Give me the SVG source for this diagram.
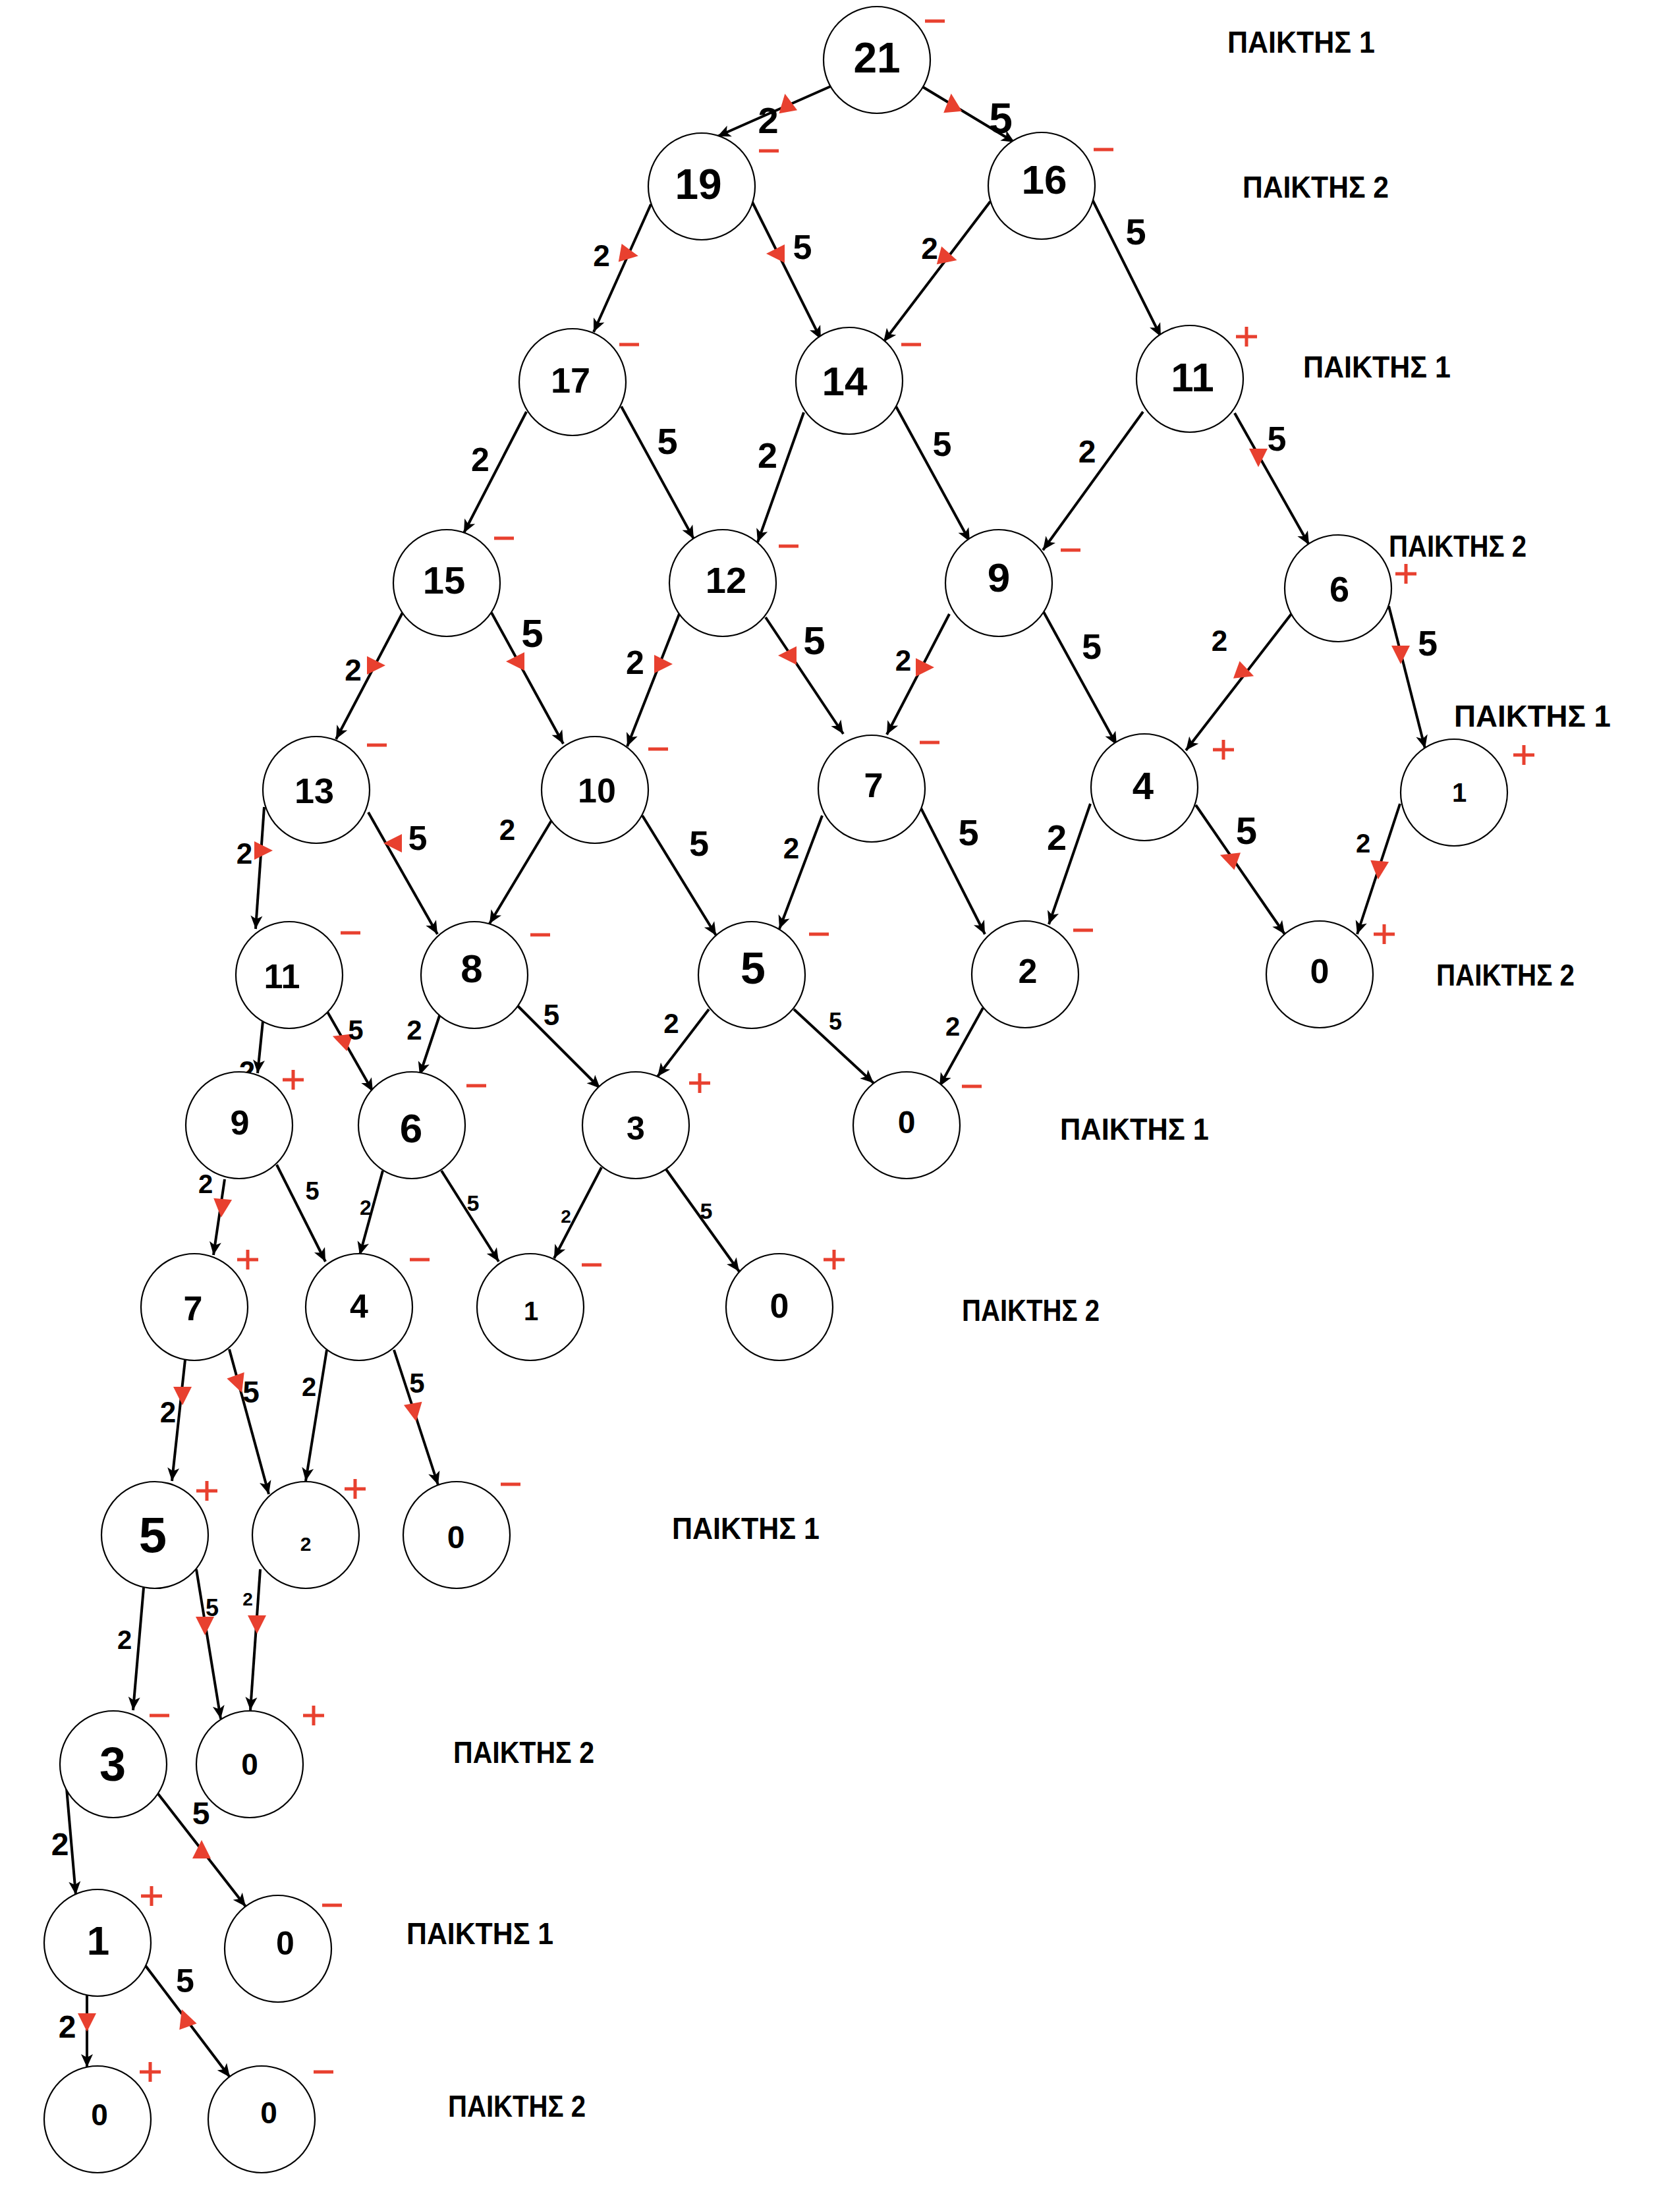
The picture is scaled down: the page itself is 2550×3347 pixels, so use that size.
<svg xmlns="http://www.w3.org/2000/svg" xmlns:xlink="http://www.w3.org/1999/xlink" width="2550" height="3347" viewBox="0 0 2550 3347">
<style>
.bg{fill:#fff}
.n{fill:#fff;stroke:#000;stroke-width:2.2}
.t{font-family:"Liberation Sans",Arial,sans-serif;font-weight:700;fill:#000;text-anchor:middle;dominant-baseline:central}
.e{stroke:#000;stroke-width:4;fill:none;marker-end:url(#ah)}
.el{font-family:"Liberation Sans",Arial,sans-serif;font-weight:700;fill:#000;text-anchor:middle;dominant-baseline:central}
.s{stroke:#e8402f;stroke-width:5;fill:none;stroke-linecap:butt}
.p{font-family:"Liberation Sans",Arial,sans-serif;font-weight:700;font-size:46px;fill:#000;dominant-baseline:central}
</style>
<defs>
<marker id="ah" viewBox="-22 -11 24 22" refX="0" refY="0" markerWidth="24" markerHeight="22" markerUnits="userSpaceOnUse" orient="auto"><path d="M0,0 L-20,-9 L-15,0 L-20,9 Z" fill="#000"/></marker>
<path id="rt" d="M-13,-14 L15,0 L-13,14 Z" fill="#e8402f"/>
<path id="mn" class="s" d="M-15,0 H15"/>
<path id="pl" class="s" d="M-16,0 H16 M0,-15 V15"/>
</defs>
<rect class="bg" x="0" y="0" width="2550" height="3347"/>

<g id="connectors">
<line class="e" x1="1261" y1="131" x2="1089" y2="207"/>
<line class="e" x1="1399" y1="131" x2="1540" y2="216"/>
<line class="e" x1="988" y1="310" x2="901" y2="504"/>
<line class="e" x1="1141" y1="305" x2="1246" y2="515"/>
<line class="e" x1="1503" y1="306" x2="1341" y2="519"/>
<line class="e" x1="1658" y1="303" x2="1762" y2="511"/>
<line class="e" x1="799" y1="625" x2="704" y2="809"/>
<line class="e" x1="943" y1="617" x2="1053" y2="818"/>
<line class="e" x1="1220" y1="626" x2="1150" y2="823"/>
<line class="e" x1="1360" y1="617" x2="1472" y2="822"/>
<line class="e" x1="1735" y1="625" x2="1583" y2="835"/>
<line class="e" x1="1874" y1="627" x2="1987" y2="827"/>
<line class="e" x1="611" y1="930" x2="510" y2="1122"/>
<line class="e" x1="746" y1="930" x2="855" y2="1129"/>
<line class="e" x1="1031" y1="932" x2="952" y2="1133"/>
<line class="e" x1="1162" y1="937" x2="1280" y2="1114"/>
<line class="e" x1="1441" y1="932" x2="1346" y2="1115"/>
<line class="e" x1="1583" y1="927" x2="1695" y2="1131"/>
<line class="e" x1="1960" y1="932" x2="1800" y2="1139"/>
<line class="e" x1="2108" y1="920" x2="2163" y2="1136"/>
<line class="e" x1="401" y1="1225" x2="388" y2="1410"/>
<line class="e" x1="559" y1="1233" x2="664" y2="1418"/>
<line class="e" x1="838" y1="1244" x2="743" y2="1402"/>
<line class="e" x1="975" y1="1238" x2="1087" y2="1420"/>
<line class="e" x1="1248" y1="1238" x2="1183" y2="1410"/>
<line class="e" x1="1398" y1="1227" x2="1495" y2="1418"/>
<line class="e" x1="1655" y1="1220" x2="1592" y2="1403"/>
<line class="e" x1="1815" y1="1222" x2="1950" y2="1418"/>
<line class="e" x1="2125" y1="1220" x2="2060" y2="1418"/>
<line class="e" x1="399" y1="1550" x2="391" y2="1629"/>
<line class="e" x1="497" y1="1536" x2="566" y2="1657"/>
<line class="e" x1="668" y1="1539" x2="637" y2="1632"/>
<line class="e" x1="786" y1="1527" x2="911" y2="1652"/>
<line class="e" x1="1076" y1="1532" x2="998" y2="1634"/>
<line class="e" x1="1205" y1="1532" x2="1326" y2="1644"/>
<line class="e" x1="1492" y1="1530" x2="1426" y2="1649"/>
<line class="e" x1="341" y1="1790" x2="324" y2="1905"/>
<line class="e" x1="420" y1="1768" x2="494" y2="1915"/>
<line class="e" x1="581" y1="1777" x2="546" y2="1905"/>
<line class="e" x1="670" y1="1777" x2="757" y2="1915"/>
<line class="e" x1="913" y1="1772" x2="841" y2="1910"/>
<line class="e" x1="1011" y1="1775" x2="1122" y2="1930"/>
<line class="e" x1="281" y1="2064" x2="261" y2="2248"/>
<line class="e" x1="348" y1="2048" x2="408" y2="2268"/>
<line class="e" x1="496" y1="2049" x2="464" y2="2248"/>
<line class="e" x1="598" y1="2049" x2="665" y2="2254"/>
<line class="e" x1="218" y1="2410" x2="202" y2="2596"/>
<line class="e" x1="298" y1="2382" x2="335" y2="2609"/>
<line class="e" x1="395" y1="2382" x2="380" y2="2596"/>
<line class="e" x1="101" y1="2714" x2="115" y2="2876"/>
<line class="e" x1="240" y1="2723" x2="373" y2="2894"/>
<line class="e" x1="132" y1="3029" x2="132" y2="3138"/>
<line class="e" x1="221" y1="2984" x2="349" y2="3153"/>

<g id="red-markers">
<use href="#rt" transform="translate(1194,157) rotate(-100)"/>
<use href="#rt" transform="translate(1445,157) rotate(-95)"/>
<use href="#rt" transform="translate(954,386) rotate(10)"/>
<use href="#rt" transform="translate(1178,385) rotate(180)"/>
<use href="#rt" transform="translate(1438,391) rotate(15)"/>
<use href="#rt" transform="translate(1910,694) rotate(90)"/>
<use href="#rt" transform="translate(570,1010) rotate(0)"/>
<use href="#rt" transform="translate(783,1004) rotate(180)"/>
<use href="#rt" transform="translate(1006,1008) rotate(0)"/>
<use href="#rt" transform="translate(1196,995) rotate(180)"/>
<use href="#rt" transform="translate(1403,1013) rotate(0)"/>
<use href="#rt" transform="translate(1889,1021) rotate(20)"/>
<use href="#rt" transform="translate(2126,993) rotate(90)"/>
<use href="#rt" transform="translate(1866,1303) rotate(200)"/>
<use href="#rt" transform="translate(2093,1320) rotate(95)"/>
<use href="#rt" transform="translate(399,1291) rotate(0)"/>
<use href="#rt" transform="translate(597,1280) rotate(180)"/>
<use href="#rt" transform="translate(519,1578) rotate(200)"/>
<use href="#rt" transform="translate(337,1833) rotate(95)"/>
<use href="#rt" transform="translate(277,2118) rotate(90)"/>
<use href="#rt" transform="translate(362,2100) rotate(70)"/>
<use href="#rt" transform="translate(629,2143) rotate(80)"/>
<use href="#rt" transform="translate(311,2467) rotate(90)"/>
<use href="#rt" transform="translate(390,2465) rotate(90)"/>
<use href="#rt" transform="translate(306,2808) rotate(-90)"/>
<use href="#rt" transform="translate(132,3069) rotate(90)"/>
<use href="#rt" transform="translate(281,3064) rotate(-110)"/>
</g>

<g id="edge-labels">
<text class="el" x="1166" y="182" font-size="56">2</text>
<text class="el" x="1519" y="180" font-size="64">5</text>
<text class="el" x="913" y="388" font-size="46">2</text>
<text class="el" x="1218" y="375" font-size="52">5</text>
<text class="el" x="1411" y="377" font-size="46">2</text>
<text class="el" x="1724" y="351" font-size="56">5</text>
<text class="el" x="729" y="698" font-size="50">2</text>
<text class="el" x="1013" y="669" font-size="56">5</text>
<text class="el" x="1165" y="691" font-size="54">2</text>
<text class="el" x="1430" y="674" font-size="52">5</text>
<text class="el" x="1650" y="685" font-size="48">2</text>
<text class="el" x="1938" y="666" font-size="52">5</text>
<text class="el" x="536" y="1017" font-size="46">2</text>
<text class="el" x="808" y="961" font-size="60">5</text>
<text class="el" x="964" y="1006" font-size="50">2</text>
<text class="el" x="1236" y="972" font-size="60">5</text>
<text class="el" x="1371" y="1002" font-size="44">2</text>
<text class="el" x="1657" y="981" font-size="54">5</text>
<text class="el" x="1851" y="972" font-size="44">2</text>
<text class="el" x="2167" y="976" font-size="54">5</text>
<text class="el" x="371" y="1295" font-size="44">2</text>
<text class="el" x="634" y="1272" font-size="52">5</text>
<text class="el" x="770" y="1259" font-size="44">2</text>
<text class="el" x="1061" y="1280" font-size="54">5</text>
<text class="el" x="1201" y="1287" font-size="44">2</text>
<text class="el" x="1470" y="1263" font-size="56">5</text>
<text class="el" x="1604" y="1271" font-size="54">2</text>
<text class="el" x="1892" y="1260" font-size="58">5</text>
<text class="el" x="2069" y="1280" font-size="40">2</text>
<text class="el" x="375" y="1626" font-size="44">2</text>
<text class="el" x="540" y="1563" font-size="42">5</text>
<text class="el" x="629" y="1563" font-size="42">2</text>
<text class="el" x="837" y="1540" font-size="44">5</text>
<text class="el" x="1019" y="1553" font-size="42">2</text>
<text class="el" x="1268" y="1550" font-size="36">5</text>
<text class="el" x="1446" y="1558" font-size="40">2</text>
<text class="el" x="312" y="1797" font-size="40">2</text>
<text class="el" x="474" y="1808" font-size="38">5</text>
<text class="el" x="555" y="1833" font-size="32">2</text>
<text class="el" x="718" y="1826" font-size="34">5</text>
<text class="el" x="859" y="1846" font-size="28">2</text>
<text class="el" x="1072" y="1838" font-size="34">5</text>
<text class="el" x="255" y="2143" font-size="44">2</text>
<text class="el" x="381" y="2113" font-size="46">5</text>
<text class="el" x="469" y="2105" font-size="40">2</text>
<text class="el" x="633" y="2099" font-size="42">5</text>
<text class="el" x="189" y="2489" font-size="40">2</text>
<text class="el" x="322" y="2440" font-size="36">5</text>
<text class="el" x="376" y="2427" font-size="28">2</text>
<text class="el" x="91" y="2799" font-size="48">2</text>
<text class="el" x="305" y="2752" font-size="48">5</text>
<text class="el" x="102" y="3076" font-size="48">2</text>
<text class="el" x="281" y="3007" font-size="50">5</text>
</g>
</g>

<g id="node-21"><circle class="n" cx="1331" cy="91" r="81"/><text class="t" x="1331" y="88" font-size="64">21</text><use href="#mn" x="1419" y="32"/></g>
<g id="node-19"><circle class="n" cx="1065" cy="283" r="81"/><text class="t" x="1060" y="280" font-size="64">19</text><use href="#mn" x="1167" y="229"/></g>
<g id="node-16"><circle class="n" cx="1581" cy="282" r="81"/><text class="t" x="1585" y="272" font-size="62">16</text><use href="#mn" x="1675" y="227"/></g>
<g id="node-17"><circle class="n" cx="869" cy="580" r="81"/><text class="t" x="866" y="577" font-size="54">17</text><use href="#mn" x="955" y="523"/></g>
<g id="node-14"><circle class="n" cx="1289" cy="578" r="81"/><text class="t" x="1282" y="578" font-size="62">14</text><use href="#mn" x="1383" y="523"/></g>
<g id="node-11-a"><circle class="n" cx="1806" cy="575" r="81"/><text class="t" x="1810" y="572" font-size="62">11</text><use href="#pl" x="1892" y="511"/></g>
<g id="node-15"><circle class="n" cx="678" cy="885" r="81"/><text class="t" x="674" y="880" font-size="58">15</text><use href="#mn" x="765" y="817"/></g>
<g id="node-12"><circle class="n" cx="1097" cy="885" r="81"/><text class="t" x="1102" y="880" font-size="56">12</text><use href="#mn" x="1197" y="829"/></g>
<g id="node-9-a"><circle class="n" cx="1516" cy="885" r="81"/><text class="t" x="1516" y="876" font-size="62">9</text><use href="#mn" x="1625" y="835"/></g>
<g id="node-6-a"><circle class="n" cx="2031" cy="893" r="81"/><text class="t" x="2033" y="894" font-size="54">6</text><use href="#pl" x="2134" y="871"/></g>
<g id="node-13"><circle class="n" cx="480" cy="1199" r="81"/><text class="t" x="477" y="1200" font-size="54">13</text><use href="#mn" x="572" y="1131"/></g>
<g id="node-10"><circle class="n" cx="903" cy="1199" r="81"/><text class="t" x="906" y="1200" font-size="52">10</text><use href="#mn" x="999" y="1137"/></g>
<g id="node-7-a"><circle class="n" cx="1323" cy="1197" r="81"/><text class="t" x="1326" y="1192" font-size="52">7</text><use href="#mn" x="1411" y="1127"/></g>
<g id="node-4-a"><circle class="n" cx="1737" cy="1195" r="81"/><text class="t" x="1735" y="1192" font-size="58">4</text><use href="#pl" x="1857" y="1138"/></g>
<g id="node-1-a"><circle class="n" cx="2207" cy="1203" r="81"/><text class="t" x="2215" y="1203" font-size="40">1</text><use href="#pl" x="2313" y="1146"/></g>
<g id="node-11-b"><circle class="n" cx="439" cy="1480" r="81"/><text class="t" x="428" y="1482" font-size="52">11</text><use href="#mn" x="532" y="1416"/></g>
<g id="node-8"><circle class="n" cx="720" cy="1480" r="81"/><text class="t" x="716" y="1470" font-size="60">8</text><use href="#mn" x="820" y="1419"/></g>
<g id="node-5-a"><circle class="n" cx="1141" cy="1480" r="81"/><text class="t" x="1143" y="1469" font-size="68">5</text><use href="#mn" x="1243" y="1418"/></g>
<g id="node-2-a"><circle class="n" cx="1556" cy="1479" r="81"/><text class="t" x="1560" y="1474" font-size="52">2</text><use href="#mn" x="1644" y="1412"/></g>
<g id="node-0-a"><circle class="n" cx="2003" cy="1479" r="81"/><text class="t" x="2003" y="1474" font-size="52">0</text><use href="#pl" x="2101" y="1418"/></g>
<g id="node-9-b"><circle class="n" cx="363" cy="1708" r="81"/><text class="t" x="364" y="1704" font-size="52">9</text><use href="#pl" x="445" y="1639"/></g>
<g id="node-6-b"><circle class="n" cx="625" cy="1708" r="81"/><text class="t" x="624" y="1712" font-size="62">6</text><use href="#mn" x="723" y="1648"/></g>
<g id="node-3-a"><circle class="n" cx="965" cy="1708" r="81"/><text class="t" x="965" y="1713" font-size="50">3</text><use href="#pl" x="1062" y="1644"/></g>
<g id="node-0-b"><circle class="n" cx="1376" cy="1708" r="81"/><text class="t" x="1376" y="1703" font-size="48">0</text><use href="#mn" x="1475" y="1649"/></g>
<g id="node-7-b"><circle class="n" cx="295" cy="1984" r="81"/><text class="t" x="293" y="1986" font-size="52">7</text><use href="#pl" x="376" y="1912"/></g>
<g id="node-4-b"><circle class="n" cx="545" cy="1984" r="81"/><text class="t" x="545" y="1983" font-size="50">4</text><use href="#mn" x="637" y="1912"/></g>
<g id="node-1-b"><circle class="n" cx="805" cy="1984" r="81"/><text class="t" x="806" y="1990" font-size="40">1</text><use href="#mn" x="898" y="1920"/></g>
<g id="node-0-c"><circle class="n" cx="1183" cy="1984" r="81"/><text class="t" x="1183" y="1982" font-size="52">0</text><use href="#pl" x="1266" y="1912"/></g>
<g id="node-5-b"><circle class="n" cx="235" cy="2330" r="81"/><text class="t" x="232" y="2329" font-size="76">5</text><use href="#pl" x="314" y="2263"/></g>
<g id="node-2-b"><circle class="n" cx="464" cy="2330" r="81"/><text class="t" x="464" y="2343" font-size="30">2</text><use href="#pl" x="539" y="2260"/></g>
<g id="node-0-d"><circle class="n" cx="693" cy="2330" r="81"/><text class="t" x="692" y="2333" font-size="48">0</text><use href="#mn" x="775" y="2253"/></g>
<g id="node-3-b"><circle class="n" cx="172" cy="2678" r="81"/><text class="t" x="171" y="2678" font-size="72">3</text><use href="#mn" x="242" y="2604"/></g>
<g id="node-0-e"><circle class="n" cx="379" cy="2678" r="81"/><text class="t" x="379" y="2678" font-size="46">0</text><use href="#pl" x="476" y="2604"/></g>
<g id="node-1-c"><circle class="n" cx="148" cy="2949" r="81"/><text class="t" x="149" y="2945" font-size="62">1</text><use href="#pl" x="230" y="2878"/></g>
<g id="node-0-f"><circle class="n" cx="422" cy="2958" r="81"/><text class="t" x="433" y="2950" font-size="50">0</text><use href="#mn" x="504" y="2892"/></g>
<g id="node-0-g"><circle class="n" cx="148" cy="3217" r="81"/><text class="t" x="151" y="3210" font-size="46">0</text><use href="#pl" x="228" y="3145"/></g>
<g id="node-0-h"><circle class="n" cx="397" cy="3217" r="81"/><text class="t" x="408" y="3207" font-size="46">0</text><use href="#mn" x="491" y="3145"/></g>

<g id="player-labels">
<text class="p" x="1863" y="64" textLength="224" lengthAdjust="spacingAndGlyphs">ΠΑΙΚΤΗΣ 1</text>
<text class="p" x="1886" y="284" textLength="222" lengthAdjust="spacingAndGlyphs">ΠΑΙΚΤΗΣ 2</text>
<text class="p" x="1978" y="557" textLength="224" lengthAdjust="spacingAndGlyphs">ΠΑΙΚΤΗΣ 1</text>
<text class="p" x="2108" y="829" textLength="209" lengthAdjust="spacingAndGlyphs">ΠΑΙΚΤΗΣ 2</text>
<text class="p" x="2207" y="1087" textLength="238" lengthAdjust="spacingAndGlyphs">ΠΑΙΚΤΗΣ 1</text>
<text class="p" x="2180" y="1480" textLength="210" lengthAdjust="spacingAndGlyphs">ΠΑΙΚΤΗΣ 2</text>
<text class="p" x="1609" y="1714" textLength="226" lengthAdjust="spacingAndGlyphs">ΠΑΙΚΤΗΣ 1</text>
<text class="p" x="1460" y="1989" textLength="209" lengthAdjust="spacingAndGlyphs">ΠΑΙΚΤΗΣ 2</text>
<text class="p" x="1020" y="2320" textLength="224" lengthAdjust="spacingAndGlyphs">ΠΑΙΚΤΗΣ 1</text>
<text class="p" x="688" y="2660" textLength="214" lengthAdjust="spacingAndGlyphs">ΠΑΙΚΤΗΣ 2</text>
<text class="p" x="617" y="2935" textLength="223" lengthAdjust="spacingAndGlyphs">ΠΑΙΚΤΗΣ 1</text>
<text class="p" x="680" y="3197" textLength="209" lengthAdjust="spacingAndGlyphs">ΠΑΙΚΤΗΣ 2</text>
</g>
</svg>
